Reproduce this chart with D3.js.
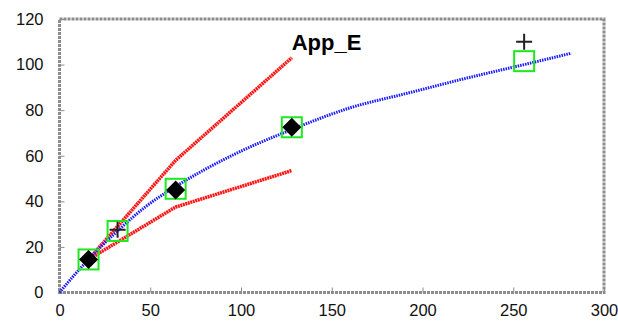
<!DOCTYPE html>
<html>
<head>
<meta charset="utf-8">
<script src="https://cdn.jsdelivr.net/npm/d3@7"></script>
<style>
  html, body { margin: 0; padding: 0; background: #fff; }
  svg { display: block; font-family: "Liberation Sans", Arial, sans-serif; }
</style>
</head>
<body>
<svg id="chart" width="618" height="327"></svg>
<script>
// Axis ticks
const xTicks = [0, 50, 100, 150, 200, 250, 300];
const yTicks = [0, 20, 40, 60, 80, 100, 120];

// Smooth fitted curve (blue)
const curveX = [0, 8, 16, 32, 48, 64, 96, 128, 160, 192, 224, 256, 282];
const curveY = [0, 7.5, 14.5, 27, 38, 46.5, 60.5, 71.5, 81, 87.5, 94, 100, 105];

// Upper and lower bounds (red)
const upperX = [16, 64, 128];
const upperY = [14.5, 58, 103];
const lowerX = [16, 64, 128];
const lowerY = [14.5, 37.5, 53.5];

// Measured points (black diamonds)
const diamondX = [16, 64, 128];
const diamondY = [14.5, 45, 72.5];

// Reference points (green squares)
const squareX = [16, 32, 64, 128, 256];
const squareY = [14.5, 27, 45.5, 72.5, 101.5];

// Extra points (crosses)
const plusX = [32, 256];
const plusY = [27.5, 110];

const svg = d3.select("#chart");
const x = d3.scaleLinear().domain([0, 300]).range([59.5, 604]);
const y = d3.scaleLinear().domain([0, 120]).range([292.5, 19]);

const frameColor = "#8c8c8c";

// Axes with inward ticks
const gx = svg.append("g").attr("transform", `translate(0,${y(0)})`)
  .call(d3.axisBottom(x).tickValues(xTicks).tickSizeInner(-5).tickSizeOuter(0).tickPadding(12));
const gy = svg.append("g").attr("transform", `translate(${x(0)},0)`)
  .call(d3.axisLeft(y).tickValues(yTicks).tickSizeInner(-5).tickSizeOuter(0).tickPadding(16));
[gx, gy].forEach(g => {
  g.select(".domain").remove();
  g.selectAll(".tick line").attr("stroke", frameColor).attr("stroke-width", 1);
  g.selectAll(".tick text").attr("fill", "#111").style("font-size", "16.5px")
    .style("font-family", "'Liberation Sans', Arial, sans-serif");
});

// Plot frame
svg.append("rect")
  .attr("x", x(0)).attr("y", y(120))
  .attr("width", x(300) - x(0)).attr("height", y(0) - y(120))
  .attr("fill", "none").attr("stroke", frameColor).attr("stroke-width", 3)
  .attr("stroke-dasharray", "3,1");

const line = d3.line().x(d => x(d[0])).y(d => y(d[1]));
const pairs = (xs, ys) => xs.map((v, i) => [v, ys[i]]);

// Red bounds
[pairs(upperX, upperY), pairs(lowerX, lowerY)].forEach(pts => {
  svg.append("path").datum(pts).attr("d", line)
    .attr("fill", "none").attr("stroke", "#ff1414").attr("stroke-width", 3.5)
    .attr("stroke-dasharray", "2,0.6").attr("stroke-linejoin", "round");
});

// Blue curve
svg.append("path").datum(pairs(curveX, curveY))
  .attr("d", d3.line().curve(d3.curveMonotoneX).x(d => x(d[0])).y(d => y(d[1])))
  .attr("fill", "none").attr("stroke", "#1a1aff").attr("stroke-width", 3)
  .attr("stroke-dasharray", "1.5,1");

// Green squares
svg.selectAll("rect.sq").data(pairs(squareX, squareY)).join("rect")
  .attr("class", "sq")
  .attr("x", d => x(d[0]) - 10).attr("y", d => y(d[1]) - 10)
  .attr("width", 20).attr("height", 20)
  .attr("fill", "none").attr("stroke", "#1ee81e").attr("stroke-width", 2);

// Black diamonds
svg.selectAll("path.dm").data(pairs(diamondX, diamondY)).join("path")
  .attr("class", "dm")
  .attr("d", d => {
    const cx = x(d[0]), cy = y(d[1]), r = 9.5;
    return `M${cx},${cy - r}L${cx + r},${cy}L${cx},${cy + r}L${cx - r},${cy}Z`;
  })
  .attr("fill", "#000");

// Crosses
svg.selectAll("path.pl").data(pairs(plusX, plusY)).join("path")
  .attr("class", "pl")
  .attr("d", d => {
    const cx = x(d[0]), cy = y(d[1]), r = 8;
    return `M${cx - r},${cy}H${cx + r}M${cx},${cy - r}V${cy + r}`;
  })
  .attr("stroke", "#222").attr("stroke-width", 2).attr("fill", "none");

// Title
svg.append("text")
  .attr("x", 326.5).attr("y", 49.5)
  .attr("text-anchor", "middle")
  .style("font-size", "22px").style("font-weight", "bold")
  .attr("fill", "#000")
  .text("App_E");
</script>
</body>
</html>
